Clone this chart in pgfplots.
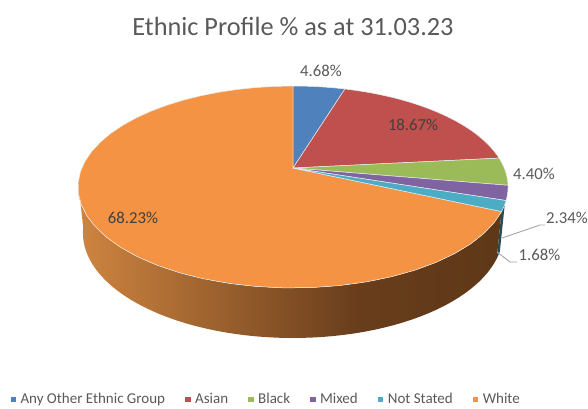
\documentclass[border=0pt]{standalone}
\usepackage{pgfplots}
\usepackage{pgfplotstable}
\usepackage{fontspec}
\setmainfont{Carlito}
\pgfplotsset{compat=1.18}
\definecolor{cBlue}{HTML}{4F81BD}
\definecolor{cRed}{HTML}{C0504D}
\definecolor{cGreen}{HTML}{9BBB59}
\definecolor{cPurple}{HTML}{8064A2}
\definecolor{cTeal}{HTML}{4BACC6}
\definecolor{cOrange}{HTML}{F39343}
\definecolor{txt}{HTML}{595959}
\definecolor{txtd}{HTML}{404040}
\pgfdeclarehorizontalshading{wallshade}{100bp}{
 rgb(0bp)=(0.81,0.52,0.25);
 rgb(25bp)=(0.81,0.52,0.25);
 rgb(58bp)=(0.41,0.24,0.11);
 rgb(75bp)=(0.37,0.22,0.09);
 rgb(100bp)=(0.37,0.22,0.09)}
% share of each slice, in per cent
\pgfplotstableread{
name share
other 4.68
asian 18.67
black 4.40
mixed 2.34
notstated 1.68
white 68.23
}\piedata
% perspective projection of the rim of the pie (angle clockwise from the top)
\newcommand\projtop[1]{%
 \pgfmathsetmacro\pu{sin(#1)}\pgfmathsetmacro\pv{cos(#1)}%
 \pgfmathsetmacro\pw{1+0.188*\pv}%
 \pgfmathsetmacro\X{293+211.2*\pu/\pw}%
 \pgfmathsetmacro\Y{168-97.4*\pv/\pw}}
\newcommand\projbase[1]{%
 \projtop{#1}%
 \pgfmathsetmacro\X{293+0.977*(\X-293)}%
 \pgfmathsetmacro\Y{233+1.04*(\Y-187)}}
\newcommand\arcpts[4]{% projection, start, end, steps
 \foreach \i in {0,...,#4}{%
  \pgfmathsetmacro\ang{#2+(#3-#2)*\i/#4}%
  #1{\ang}%
  \xdef\pts{\pts (\X,\Y)}}}
\newcommand\shareangle[2]{% row, macro
 \pgfplotstablegetelem{#1}{share}\of\piedata
 \pgfmathsetmacro#2{\pgfplotsretval*3.6}}
\newcommand\topsector[3]{% options, start, end
 \gdef\pts{(293,168)}%
 \arcpts\projtop{#2}{#3}{40}%
 \xdef\pts{\pts (293,168)}%
 \edef\tmp{\noexpand\addplot[forget plot,#1] coordinates {\pts};}\tmp}
\newcommand\wall[3]{% options, start, end
 \gdef\pts{}%
 \arcpts\projtop{#2}{#3}{60}%
 \arcpts\projbase{#3}{#2}{60}%
 \edef\tmp{\noexpand\addplot[forget plot,#1] coordinates {\pts};}\tmp}
\begin{document}
\begin{tikzpicture}
\useasboundingbox (0pt,0pt) rectangle (588pt,408pt);
\shareangle{0}\sa \shareangle{1}\sb \shareangle{2}\sc \shareangle{3}\sd \shareangle{4}\se
\pgfmathsetmacro\aA{\sa}
\pgfmathsetmacro\aB{\aA+\sb}
\pgfmathsetmacro\aC{\aB+\sc}
\pgfmathsetmacro\aD{\aC+\sd}
\pgfmathsetmacro\aE{\aD+\se}
\begin{axis}[
 at={(0pt,0pt)}, anchor=south west,
 width=588pt, height=408pt, scale only axis,
 xmin=0, xmax=588, ymin=0, ymax=408, y dir=reverse,
 hide axis, clip=false,
 legend columns=6,
 legend cell align=left,
 legend image code/.code={\fill[#1] (0pt,-2.3pt) rectangle (4.6pt,2.3pt);},
 legend style={at={(axis cs:10.5,399)},anchor=west,draw=none,fill=none,inner sep=0pt,outer sep=0pt,
  font=\fontsize{15}{17}\selectfont\color{txt},
  /tikz/every even column/.append style={column sep=15pt},
  nodes={inner xsep=5pt,inner ysep=0pt}},
]
\addlegendimage{cBlue}\addlegendentry{Any Other Ethnic Group}
\addlegendimage{cRed}\addlegendentry{Asian}
\addlegendimage{cGreen}\addlegendentry{Black}
\addlegendimage{cPurple}\addlegendentry{Mixed}
\addlegendimage{cTeal}\addlegendentry{Not Stated}
\addlegendimage{cOrange}\addlegendentry{White}
% walls
\wall{draw=none,fill=cTeal!45!black}{110.5}{\aE}
\wall{draw=none,shading=wallshade}{\aE}{262}
% top faces
\topsector{draw=white!85!gray,line width=0.5pt,fill=cOrange}{\aE}{360}
\topsector{draw=white!85!gray,line width=0.5pt,fill=cBlue}{0}{\aA}
\topsector{draw=white!85!gray,line width=0.5pt,fill=cRed}{\aA}{\aB}
\topsector{draw=white!85!gray,line width=0.5pt,fill=cGreen}{\aB}{\aC}
\topsector{draw=white!85!gray,line width=0.5pt,fill=cPurple}{\aC}{\aD}
\topsector{draw=white!85!gray,line width=0.5pt,fill=cTeal}{\aD}{\aE}
% leader lines
\addplot[forget plot,draw=gray!70,line width=0.9pt] coordinates {(502,238) (540,225) (545,225)};
\addplot[forget plot,draw=gray!70,line width=0.9pt] coordinates {(497,252) (510,262) (517,262)};
% labels
\node[text=txt,font=\fontsize{26.3}{30}\selectfont] at (axis cs:293,26) {Ethnic Profile \% as at 31.03.23};
\node[text=txt,font=\fontsize{16.7}{20}\selectfont] at (axis cs:321,71) {4.68\%};
\node[text=txtd,font=\fontsize{16.7}{20}\selectfont] at (axis cs:413,125) {18.67\%};
\node[text=txt,font=\fontsize{16.7}{20}\selectfont] at (axis cs:534,174) {4.40\%};
\node[text=txt,font=\fontsize{16.7}{20}\selectfont] at (axis cs:567,218) {2.34\%};
\node[text=txt,font=\fontsize{16.7}{20}\selectfont] at (axis cs:539.5,255) {1.68\%};
\node[text=txtd,font=\fontsize{16.7}{20}\selectfont] at (axis cs:133,218) {68.23\%};
\end{axis}
\end{tikzpicture}
\end{document}
